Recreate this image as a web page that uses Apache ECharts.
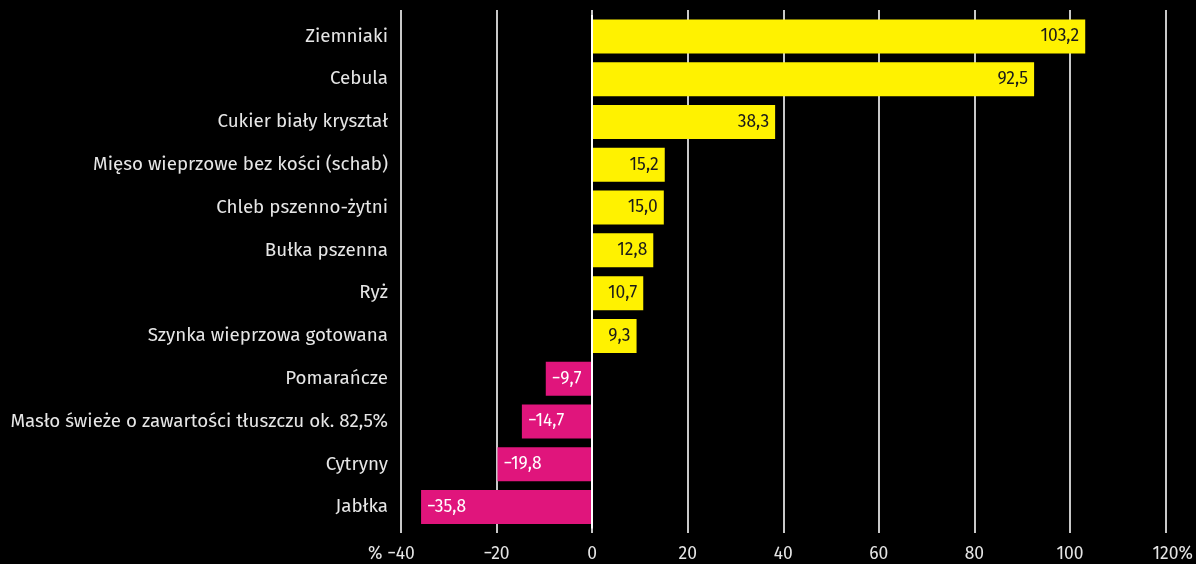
<!DOCTYPE html>
<html>
<head>
<meta charset="utf-8">
<script src="https://cdn.jsdelivr.net/npm/echarts@6/dist/echarts.min.js"></script>
<style>
  html, body { margin: 0; padding: 0; background: #000; }
  #chart { width: 1196px; height: 564px; }
</style>
</head>
<body>
<div id="chart"></div>
<script>
// Zmiana cen, % r/r
var categories = [
    'Ziemniaki', 'Cebula', 'Cukier biały kryształ', 'Mięso wieprzowe bez kości (schab)',
    'Chleb pszenno-żytni', 'Bułka pszenna', 'Ryż', 'Szynka wieprzowa gotowana',
    'Pomarańcze', 'Masło świeże o zawartości tłuszczu ok. 82,5%', 'Cytryny', 'Jabłka'
];
var values = [103.2, 92.5, 38.3, 15.2, 15.0, 12.8, 10.7, 9.3, -9.7, -14.7, -19.8, -35.8];
var tickValues = [-40, -20, 0, 20, 40, 60, 80, 100, 120];

var FONT = '"Fira Sans", "Noto Sans", sans-serif';

function fmt(v) {
    return v.toFixed(1).replace('.', ',').replace('-', '\u2212');
}
function tickLabel(v) {
    var s = String(v).replace('-', '\u2212');
    // keep the number centred on its tick, the % sign hangs outside
    if (v === tickValues[0]) return '% ' + s + '{h|% }';
    if (v === tickValues[tickValues.length - 1]) return '{h|%}' + s + '%';
    return s;
}

var chart = echarts.init(document.getElementById('chart'));
chart.setOption({
    backgroundColor: '#000',
    animation: false,
    grid: [
        { left: 401, right: 30.5, top: 10, bottom: 31 },   // grid lines
        { left: 401, right: 30.5, top: 15, bottom: 35.5 }  // bars
    ],
    xAxis: [{
        gridIndex: 0, type: 'value', min: -40, max: 120, interval: 20,
        axisLine: { show: false }, axisTick: { show: false },
        splitLine: { lineStyle: { color: '#c8c8c8', width: 2 } },
        axisLabel: {
            color: '#e6e6e6', fontFamily: FONT, fontSize: 17.5, margin: 12,
            formatter: tickLabel,
            rich: { h: { color: 'transparent', fontFamily: FONT, fontSize: 17.5 } }
        }
    }, {
        gridIndex: 1, type: 'value', min: -40, max: 120, interval: 20,
        axisLine: { show: false }, axisTick: { show: false },
        splitLine: { show: false }, axisLabel: { show: false }
    }],
    yAxis: [{
        gridIndex: 0, type: 'category', data: categories, inverse: true,
        axisLine: { show: false }, axisTick: { show: false },
        axisLabel: { show: false }, splitLine: { show: false }
    }, {
        gridIndex: 1, type: 'category', data: categories, inverse: true,
        axisLine: { show: false }, axisTick: { show: false },
        axisLabel: { color: '#e6e6e6', fontFamily: FONT, fontSize: 18.8, margin: 13 }
    }],
    series: [{
        type: 'bar', xAxisIndex: 1, yAxisIndex: 1, barWidth: 34,
        data: values.map(function(v) {
            return {
                value: v,
                itemStyle: { color: v >= 0 ? '#fff200' : '#e0157c' },
                label: {
                    position: v >= 0 ? 'insideRight' : 'insideLeft',
                    color: v >= 0 ? '#1a1a1a' : '#ffffff'
                }
            };
        }),
        label: {
            show: true, fontFamily: FONT, fontSize: 17.5, distance: 6,
            formatter: function(p) { return fmt(p.value); }
        },
        markLine: {
            silent: true, symbol: 'none', label: { show: false },
            lineStyle: { color: '#ffffff', width: 2, type: 'solid' },
            data: [{ xAxis: 0 }]
        },
        z: 3
    }]
});
</script>
</body>
</html>
